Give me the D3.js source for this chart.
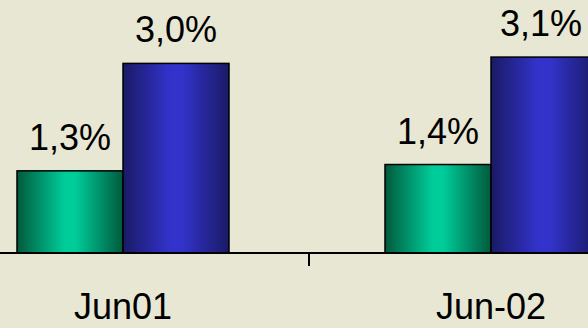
<!DOCTYPE html>
<html>
<head>
<meta charset="utf-8">
<script src="https://cdn.jsdelivr.net/npm/d3@7"></script>
<style>
  html, body { margin: 0; padding: 0; background: #e7e7d3; }
  svg { display: block; }
  text { font-family: "Liberation Sans", Arial, sans-serif; fill: #000; }
</style>
</head>
<body>
<svg id="chart" width="588" height="328"></svg>
<script>
const categories = ["Jun01", "Jun-02"];
const seriesNames = ["A", "B"];
const seriesA = [1.3, 1.4];
const seriesB = [3.0, 3.1];
const valueLabelsA = ["1,3%", "1,4%"];
const valueLabelsB = ["3,0%", "3,1%"];

const W = 588, H = 328;
const svg = d3.select("#chart");
svg.append("rect").attr("width", W).attr("height", H).attr("fill", "#e7e7d3");

const defs = svg.append("defs");
function grad(id, edge, mid) {
  const g = defs.append("linearGradient").attr("id", id)
    .attr("x1", "0%").attr("x2", "100%").attr("y1", "0%").attr("y2", "0%");
  g.append("stop").attr("offset", "0%").attr("stop-color", edge);
  g.append("stop").attr("offset", "45%").attr("stop-color", mid);
  g.append("stop").attr("offset", "55%").attr("stop-color", mid);
  g.append("stop").attr("offset", "100%").attr("stop-color", edge);
}
grad("gGreen", "#005a3c", "#00cc99");
grad("gBlue", "#1a1a66", "#3333cc");

const baseY = 253;
const y = d3.scaleLinear().domain([0, 4]).range([baseY, baseY - 4 * 63.2]);
const x0 = d3.scaleBand().domain(categories).range([-61, 675]).padding(0);
const x1 = d3.scaleBand().domain(seriesNames).range([0, x0.bandwidth()]).paddingInner(0).paddingOuter(0.7358);

const data = categories.map((c, i) => ({
  cat: c,
  vals: [
    { s: "A", v: seriesA[i], lab: valueLabelsA[i], fill: "url(#gGreen)" },
    { s: "B", v: seriesB[i], lab: valueLabelsB[i], fill: "url(#gBlue)" }
  ]
}));

const groups = svg.selectAll("g.cat").data(data).join("g")
  .attr("class", "cat")
  .attr("transform", d => `translate(${x0(d.cat)},0)`);

groups.selectAll("rect").data(d => d.vals).join("rect")
  .attr("x", d => x1(d.s))
  .attr("y", d => y(d.v))
  .attr("width", x1.bandwidth())
  .attr("height", d => y(0) - y(d.v))
  .attr("fill", d => d.fill)
  .attr("stroke", "#000")
  .attr("stroke-width", 1.5);

groups.selectAll("text.val").data(d => d.vals).join("text")
  .attr("class", "val")
  .attr("x", d => x1(d.s) + x1.bandwidth() / 2)
  .attr("y", d => y(d.v) - 21)
  .attr("text-anchor", "middle")
  .attr("font-size", 36)
  .text(d => d.lab)
  .each(function(d) {
    // keep label inside the picture
    const g = this.parentNode;
    const tx = x0(d3.select(g).datum().cat);
    const half = this.getComputedTextLength() / 2;
    const cx = tx + (+this.getAttribute("x"));
    const maxCx = W - 6 - half;
    if (cx > maxCx) this.setAttribute("x", maxCx - tx);
  });

// axis
const axisG = svg.append("g").attr("transform", `translate(0,${baseY})`);
axisG.append("line").attr("x1", 0).attr("x2", W).attr("y1", 0).attr("y2", 0)
  .attr("stroke", "#000").attr("stroke-width", 2);
axisG.selectAll("line.tick").data(categories.slice(1)).join("line")
  .attr("class", "tick")
  .attr("x1", d => x0(d) + 2).attr("x2", d => x0(d) + 2)
  .attr("y1", 0).attr("y2", 13)
  .attr("stroke", "#000").attr("stroke-width", 2);
axisG.selectAll("text.cat").data(categories).join("text")
  .attr("class", "cat")
  .attr("x", d => x0(d) + x0.bandwidth() / 2)
  .attr("y", 66)
  .attr("text-anchor", "middle")
  .attr("font-size", 36)
  .text(d => d);
</script>
</body>
</html>
